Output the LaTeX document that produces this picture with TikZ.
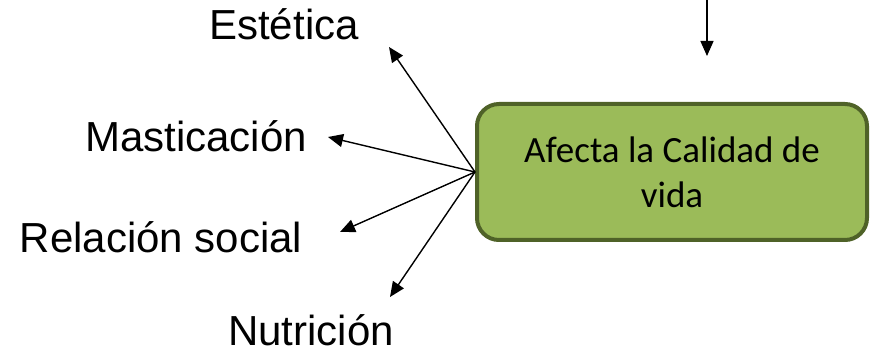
\documentclass[tikz,border=0pt]{standalone}
\usepackage{fontspec}
\setmainfont{Liberation Sans}
\newfontfamily\boxfont{Carlito}
\usetikzlibrary{arrows.meta}
\definecolor{boxgreen}{HTML}{9BBB59}
\definecolor{boxedge}{HTML}{4F6228}

\begin{document}
\begin{tikzpicture}[x=1pt, y=-1pt,
		lbl/.style={font=\fontsize{42}{49}\selectfont, inner sep=0pt},
		arr/.style={-{Triangle[length=15pt, width=13pt]}, line width=1.4pt}]
			\useasboundingbox (0,0) rectangle (879,355);
			\node (box) [draw=boxedge, line width=4pt, fill=boxgreen, rounded corners=22pt,
				minimum width=390pt, minimum height=136pt, align=center,
				font=\boxfont\fontsize{37}{45}\selectfont] at (672,172)
				{Afecta la Calidad de\\vida};
			\node (est) [lbl] at (284,24) {Estética};
			\node (mast) [lbl] at (196,136) {Masticación};
			\node (rel) [lbl] at (161,237) {Relación social};
			\node (nut) [lbl] at (311,330) {Nutrición};
			\coordinate (src) at (box.west);
			\coordinate (top) at (707,0);
			\coordinate (e1) at (389,47);
			\coordinate (e2) at (328,137);
			\coordinate (e3) at (340,232);
			\coordinate (e4) at (390,297);
			\coordinate (e5) at (707,56);
			\path[arr]
			(src) edge (e1) edge (e2) edge (e3) edge (e4)
			(top) edge (e5);
		\end{tikzpicture}
\end{document}
